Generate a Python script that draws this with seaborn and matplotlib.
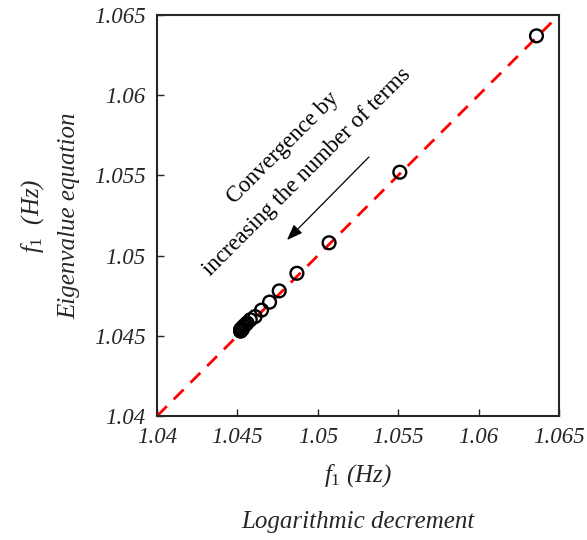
import matplotlib
matplotlib.use("Agg")
import matplotlib.pyplot as plt
import seaborn as sns
import pandas as pd

# First natural frequency from the two methods, for increasing number of terms
f1_log_decrement = [1.0636, 1.0551, 1.0507, 1.0487, 1.0476, 1.0470, 1.0465,
                    1.0461, 1.0458, 1.0456, 1.0455, 1.0454, 1.0453, 1.0453,
                    1.0452, 1.0452, 1.0452]
f1_eigenvalue = [1.0637, 1.0552, 1.0508, 1.0489, 1.0478, 1.0471, 1.0466,
                 1.0462, 1.0460, 1.0458, 1.0457, 1.0456, 1.0455, 1.0454,
                 1.0454, 1.0453, 1.0453]

# Line of perfect agreement
diag = [1.04, 1.065]
ticks = [1.04, 1.045, 1.05, 1.055, 1.06, 1.065]
tick_labels = ["1.04", "1.045", "1.05", "1.055", "1.06", "1.065"]

sns.set_theme(style="white")
plt.rcParams["font.family"] = ["Liberation Serif", "DejaVu Serif"]
plt.rcParams["mathtext.fontset"] = "custom"
plt.rcParams["mathtext.it"] = "Liberation Serif:italic"
plt.rcParams["mathtext.rm"] = "Liberation Serif"

df = pd.DataFrame({"log_dec": f1_log_decrement, "eig": f1_eigenvalue})
line_df = pd.DataFrame({"x": diag, "y": diag})

fig = plt.figure(figsize=(5.87, 5.40), dpi=100)
ax = fig.add_axes([0.2675, 0.2296, 0.6848, 0.7426])

sns.lineplot(data=line_df, x="x", y="y", ax=ax, color="#ff0000",
             linewidth=2.0, dashes=False, linestyle=(0, (5, 3.5)), zorder=2)
sns.scatterplot(data=df, x="log_dec", y="eig", ax=ax, s=85,
                facecolors="none", edgecolor="black", linewidth=1.7, zorder=3)

ax.set_xlim(1.04, 1.065)
ax.set_ylim(1.04, 1.065)
ax.set_xticks(ticks)
ax.set_yticks(ticks)
ax.set_xticklabels(tick_labels, fontsize=16.5, style="italic")
ax.set_yticklabels(tick_labels, fontsize=16.5, style="italic")
ax.tick_params(direction="in", length=5, width=1.0, color="#262626",
               labelcolor="#262626", top=False, right=False,
               bottom=True, left=True, pad=8)
for sp in ax.spines.values():
    sp.set_color("#262626")
    sp.set_linewidth(1.5)

ax.set_xlabel("$f_1$ (Hz)\n\nLogarithmic decrement", fontsize=18,
              style="italic", color="#262626", linespacing=1.0, labelpad=10)
ax.set_ylabel("$f_1$  (Hz)\nEigenvalue equation", fontsize=18,
              style="italic", color="#262626", linespacing=1.75, labelpad=10)

ax.text(1.04784, 1.05671, "Convergence by", rotation=45, fontsize=16.5,
        ha="center", va="center", rotation_mode="anchor", color="black")
ax.text(1.04933, 1.05521, "increasing the number of terms", rotation=45,
        fontsize=16.5, ha="center", va="center", rotation_mode="anchor",
        color="black")
ax.annotate("", xy=(1.04808, 1.05097), xytext=(1.05318, 1.05615),
            arrowprops=dict(arrowstyle="-|>,head_length=0.8,head_width=0.3",
                            color="black", lw=0.9, shrinkA=0, shrinkB=0))

fig.savefig("out.png", dpi=100)
